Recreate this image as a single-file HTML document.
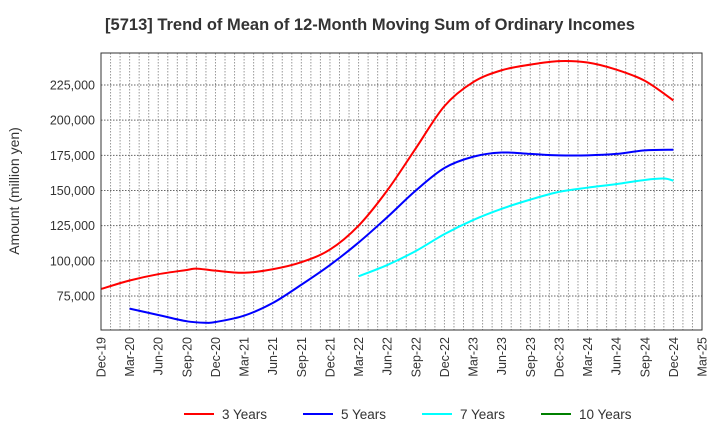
<!DOCTYPE html>
<html><head><meta charset="utf-8"><style>
body{margin:0;background:#fff;font-family:"Liberation Sans",Arial,sans-serif}
svg text{font-family:"Liberation Sans",Arial,sans-serif;fill:#333}
</style></head><body>
<svg id="chart" width="720" height="440">
<text x="370" y="30" text-anchor="middle" font-size="16.5" font-weight="bold" fill="#222">[5713]  Trend of Mean of 12-Month Moving Sum of Ordinary Incomes</text>
<text transform="translate(19,191) rotate(-90)" text-anchor="middle" font-size="14">Amount (million yen)</text>
<g id="grid"></g><g id="series"></g><g id="axes"></g>
<g id="legend"></g>
</svg>
<script>
const xLabels=["Dec-19","Mar-20","Jun-20","Sep-20","Dec-20","Mar-21","Jun-21","Sep-21","Dec-21","Mar-22","Jun-22","Sep-22","Dec-22","Mar-23","Jun-23","Sep-23","Dec-23","Mar-24","Jun-24","Sep-24","Dec-24","Mar-25"];
const yTicks=[75000,100000,125000,150000,175000,200000,225000];
const seriesNames=["3 Years","5 Years","7 Years","10 Years"];
const seriesColors=["#ff0000","#0000ff","#00ffff","#008000"];
const m3=[0,3,6,9,10,12,15,18,21,24,27,30,33,36,39,42,45,48,51,54,57,60];
const v3=[80000,86000,90500,93500,94500,93000,91500,94000,99000,108000,125000,150000,180000,210000,227000,235500,239500,242000,241000,236000,228000,214000];
const m5=[3,6,9,11,12,15,18,21,24,27,30,33,36,39,42,45,48,51,54,57,60];
const v5=[66000,61500,57000,56000,56500,61000,70000,83000,97000,113000,131000,150000,166000,174000,177000,176000,175000,175000,176000,178500,179000];
const m7=[27,30,33,36,39,42,45,48,51,54,57,59,60];
const v7=[89000,97000,107000,119000,129000,137000,143500,149000,152000,154500,157500,158500,157000];
const m10=[];const v10=[];
const L=101,R=702,T=53,B=330,yMin=50830,yMax=247750,nMonths=63;
const X=m=>L+m*(R-L)/nMonths;
const Y=v=>B-(v-yMin)*(B-T)/(yMax-yMin);
const NS="http://www.w3.org/2000/svg";
function mk(t,a,p){const e=document.createElementNS(NS,t);for(const k in a)e.setAttribute(k,a[k]);p.appendChild(e);return e;}
const grid=document.getElementById('grid'),axes=document.getElementById('axes'),ser=document.getElementById('series'),leg=document.getElementById('legend');
for(let m=1;m<nMonths;m++){const l=mk('line',{x1:X(m),x2:X(m),y1:T,y2:B,stroke:'#999','stroke-dasharray':'1.5,1.5','stroke-width':1},grid);

}
yTicks.forEach(v=>{const l=mk('line',{x1:L,x2:R,y1:Y(v),y2:Y(v),stroke:'#666','stroke-dasharray':'1.5,1.5'},grid);


const t=mk('text',{x:L-6,y:Y(v)+4.5,'text-anchor':'end','font-size':12.5},axes);t.textContent=v.toLocaleString('en-US');

});
xLabels.forEach((s,i)=>{const x=X(i*3);const t=mk('text',{transform:`translate(${x+4.5},337) rotate(-90)`,'text-anchor':'end','font-size':12.5},axes);t.textContent=s;

});
const fr=mk('rect',{x:L,y:T,width:R-L,height:B-T,fill:'none',stroke:'#333','stroke-width':1},axes);


function path(ms,vs){const p=ms.map((m,i)=>[X(m),Y(vs[i])]);if(!p.length)return '';let d=`M${p[0][0]},${p[0][1]}`;
for(let i=0;i<p.length-1;i++){const p0=p[i-1]||p[i],p1=p[i],p2=p[i+1],p3=p[i+2]||p2;
d+=` C${p1[0]+(p2[0]-p0[0])/6},${p1[1]+(p2[1]-p0[1])/6} ${p2[0]-(p3[0]-p1[0])/6},${p2[1]-(p3[1]-p1[1])/6} ${p2[0]},${p2[1]}`;}return d;}
[[m3,v3],[m5,v5],[m7,v7],[m10,v10]].forEach(([ms,vs],i)=>{if(!ms.length)return;const p=mk('path',{d:path(ms,vs),fill:'none',stroke:seriesColors[i],'stroke-width':2},ser);

});
const lx=[184,303,422,541];
seriesNames.forEach((n,i)=>{const g=mk('g',{},leg);


mk('line',{x1:lx[i],x2:lx[i]+30,y1:414,y2:414,stroke:seriesColors[i],'stroke-width':2},g);
const t=mk('text',{x:lx[i]+38,y:419,'font-size':13.5},g);t.textContent=n;});
</script>
</body></html>
